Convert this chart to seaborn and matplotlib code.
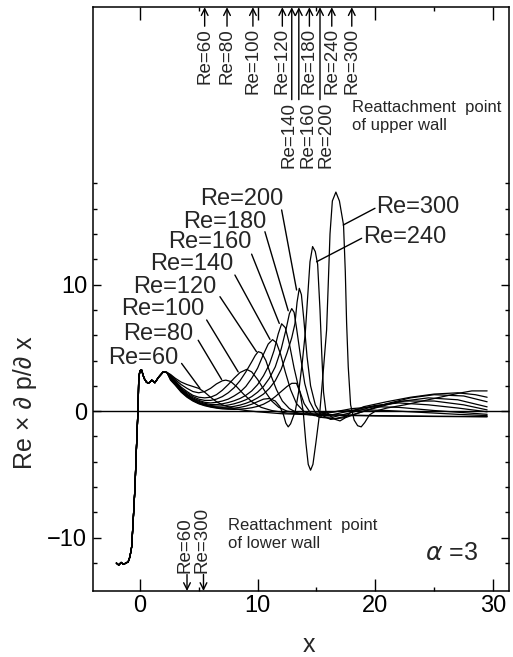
import matplotlib

matplotlib.use("Agg")

import matplotlib.pyplot as plt
import pandas as pd
import seaborn as sns


RE_VALUES = [60, 80, 100, 120, 140, 160, 180, 200, 240, 300]

# inlet part, identical for every Re
INLET_X = [-2.0, -1.8, -1.6, -1.4, -1.2, -1.0, -0.85, -0.7, -0.57, -0.42, -0.3, -0.2,
           -0.14, -0.1, 0.0, 0.14, 0.35, 0.55, 0.71, 0.85, 1.0, 1.27, 1.6, 1.98, 2.3]
INLET_Y = [-12.0, -12.15, -11.95, -12.1, -12.0, -11.9, -11.5, -10.7, -8.6, -6.0, -3.0, -0.7,
           1.0, 2.6, 3.2, 3.25, 2.6, 2.3, 2.2, 2.3, 2.45, 2.25, 2.7, 3.1, 3.05]

X_RE60 = [2.6, 3.0, 3.5, 4.0, 4.5, 5.0, 5.5, 6.0, 6.5, 7.0, 8.0, 9.0, 10.0, 12.0, 15.0, 20.0, 25.0, 29.5]
Y_RE60 = [2.9, 2.6, 2.3, 2.1, 1.95, 1.8, 1.5, 1.1, 0.75, 0.5, 0.2, 0.05, -0.05, -0.2, -0.3, -0.38, -0.42, -0.45]

X_RE80 = [2.6, 3.0, 3.5, 4.0, 4.5, 5.0, 5.5, 6.0, 6.5, 7.0, 7.3, 7.7, 8.2, 8.8, 9.5, 10.3, 11.2, 12.5,
          15.0, 20.0, 25.0, 29.5]
Y_RE80 = [2.85, 2.5, 2.1, 1.8, 1.55, 1.45, 1.55, 1.8, 2.15, 2.4, 2.45, 2.35, 1.95, 1.35, 0.75, 0.3, 0.05, -0.15,
          -0.25, -0.35, -0.4, -0.42]

X_RE100 = [2.6, 3.0, 3.5, 4.0, 4.5, 5.0, 5.5, 6.0, 6.5, 7.0, 7.5, 8.0, 8.5, 9.07, 9.5, 10.0, 10.6, 11.2,
           11.8, 12.5, 13.5, 15.0, 17.0, 19.0, 21.0, 24.0, 27.0, 29.5]
Y_RE100 = [2.8, 2.4, 1.9, 1.55, 1.25, 1.1, 1.05, 1.1, 1.3, 1.65, 2.1, 2.6, 3.05, 3.3, 3.1, 2.5, 1.6, 0.8,
           0.3, 0.0, -0.15, -0.15, 0.0, 0.1, 0.05, -0.1, -0.25, -0.35]

X_RE120 = [2.6, 3.0, 3.5, 4.0, 4.5, 5.0, 5.5, 6.0, 6.5, 7.0, 7.5, 8.0, 8.5, 9.0, 9.5, 9.8, 10.05, 10.35,
           10.7, 11.1, 11.6, 12.1, 12.7, 13.4, 14.5, 16.0, 18.0, 20.0, 22.0, 25.0, 29.5]
Y_RE120 = [2.75, 2.35, 1.8, 1.45, 1.15, 0.95, 0.85, 0.85, 0.95, 1.15, 1.45, 1.85, 2.4, 3.1, 3.9, 4.4, 4.7, 4.6,
           4.0, 2.9, 1.7, 0.8, 0.2, -0.15, -0.3, -0.15, 0.2, 0.35, 0.3, 0.05, -0.25]

X_RE140 = [2.6, 3.0, 3.5, 4.0, 4.5, 5.0, 5.5, 6.0, 6.5, 7.0, 7.5, 8.0, 8.5, 9.0, 9.5, 10.0, 10.5, 10.9,
           11.27, 11.6, 11.95, 12.35, 12.8, 13.3, 13.9, 14.8, 16.0, 18.0, 20.0, 22.0, 24.5, 27.0, 29.5]
Y_RE140 = [2.7, 2.3, 1.75, 1.35, 1.05, 0.85, 0.7, 0.65, 0.7, 0.8, 0.95, 1.2, 1.5, 1.95, 2.6, 3.4, 4.5, 5.3,
           5.65, 5.4, 4.5, 3.1, 1.7, 0.6, 0.0, -0.35, -0.35, 0.05, 0.45, 0.65, 0.5, 0.25, -0.05]

X_RE160 = [2.6, 3.0, 3.5, 4.0, 4.5, 5.0, 5.5, 6.0, 6.5, 7.0, 7.5, 8.0, 8.5, 9.0, 9.5, 10.0, 10.5, 11.0,
           11.4, 11.75, 12.04, 12.35, 12.7, 13.1, 13.5, 13.95, 14.5, 15.3, 16.5, 18.0, 20.0, 22.5, 25.0,
           27.5, 29.5]
Y_RE160 = [2.65, 2.25, 1.7, 1.3, 0.98, 0.78, 0.62, 0.53, 0.52, 0.58, 0.68, 0.82, 1.0, 1.25, 1.6, 2.1, 2.8, 3.7,
           4.8, 6.1, 6.9, 6.6, 5.3, 3.4, 1.8, 0.6, -0.15, -0.5, -0.45, -0.1, 0.4, 0.8, 0.8,
           0.5, 0.1]

X_RE180 = [2.6, 3.0, 3.5, 4.0, 4.5, 5.0, 5.5, 6.0, 6.5, 7.0, 7.5, 8.0, 8.5, 9.0, 9.5, 10.0, 10.5, 11.0,
           11.5, 12.0, 12.4, 12.7, 12.9, 13.1, 13.3, 13.65, 14.0, 14.4, 14.9, 15.5, 16.5, 18.0, 20.0, 22.0,
           24.5, 27.0, 29.5]
Y_RE180 = [2.6, 2.2, 1.65, 1.25, 0.92, 0.7, 0.55, 0.45, 0.4, 0.42, 0.48, 0.58, 0.72, 0.9, 1.15, 1.5, 1.95, 2.6,
           3.5, 4.9, 6.4, 7.7, 8.1, 7.8, 6.6, 4.3, 2.2, 0.8, -0.1, -0.5, -0.6, -0.3, 0.25, 0.75,
           1.05, 0.9, 0.34]

X_RE200 = [2.6, 3.0, 3.5, 4.0, 4.5, 5.0, 5.5, 6.0, 6.5, 7.0, 7.5, 8.0, 8.5, 9.0, 9.5, 10.0, 10.5, 11.0,
           11.5, 12.0, 12.5, 12.9, 13.17, 13.35, 13.54, 13.72, 13.93, 14.2, 14.5, 14.9, 15.4, 16.2, 17.5,
           19.0, 21.0, 23.0, 25.0, 27.5, 29.5]
Y_RE200 = [2.55, 2.15, 1.6, 1.2, 0.88, 0.65, 0.5, 0.4, 0.33, 0.3, 0.32, 0.38, 0.48, 0.62, 0.8, 1.05, 1.35, 1.8,
           2.4, 3.3, 4.6, 5.8, 6.9, 8.6, 9.7, 9.2, 7.2, 4.3, 2.0, 0.5, -0.3, -0.65, -0.5,
           0.0, 0.6, 1.05, 1.3, 1.2, 0.74]

X_RE240 = [2.6, 3.0, 3.5, 4.0, 4.5, 5.0, 5.5, 6.0, 6.5, 7.0, 7.5, 8.0, 8.5, 9.0, 9.5, 10.0, 10.5, 11.0,
           11.5, 11.9, 12.2, 12.4, 12.6, 12.8, 13.0, 13.2, 13.5, 13.8, 14.05, 14.25, 14.45, 14.67, 14.9,
           15.1, 15.3, 15.45, 15.6, 15.8, 16.2, 16.6, 17.0, 17.4, 17.9, 19.0, 21.0, 23.0, 25.0, 27.0,
           28.5, 29.5]
Y_RE240 = [2.5, 2.1, 1.55, 1.15, 0.85, 0.62, 0.47, 0.36, 0.28, 0.23, 0.22, 0.24, 0.3, 0.4, 0.55, 0.75, 0.95, 1.0,
           0.8, 0.35, -0.3, -0.95, -1.24, -1.0, -0.5, 0.0, 1.6, 3.9, 6.2, 9.0, 11.8, 13.0, 12.6,
           11.6, 8.0, 4.5, 1.5, 0.0, -0.4, -0.65, -0.77, -0.55, -0.1, 0.35, 0.75, 1.1, 1.35, 1.45,
           1.3, 1.1]

X_RE300 = [2.6, 3.0, 3.5, 4.0, 4.5, 5.0, 5.5, 6.0, 6.5, 7.0, 7.5, 8.0, 8.5, 9.0, 9.5, 10.0, 10.5, 11.0,
           11.5, 12.0, 12.5, 12.9, 13.3, 13.6, 13.87, 14.1, 14.3, 14.5, 14.7, 14.95, 15.29, 15.6, 15.86,
           16.0, 16.15, 16.35, 16.65, 16.95, 17.3, 17.45, 17.56, 17.7, 17.9, 18.2, 18.5, 18.8, 19.1,
           19.5, 20.0, 21.0, 22.5, 24.0, 25.5, 27.0, 28.2, 29.5]
Y_RE300 = [2.45, 2.05, 1.5, 1.1, 0.8, 0.58, 0.43, 0.32, 0.24, 0.18, 0.15, 0.14, 0.16, 0.2, 0.27, 0.38, 0.55, 0.8,
           1.15, 1.55, 1.95, 2.2, 2.2, 1.5, 0.0, -2.5, -4.2, -4.66, -4.2, -2.5, 0.0, 3.4, 6.4,
           10.0, 14.0, 16.6, 17.3, 16.6, 14.7, 11.0, 7.0, 3.5, 0.5, -0.7, -1.15, -1.24, -0.9,
           -0.3, 0.0, 0.25, 0.5, 0.8, 1.1, 1.4, 1.6, 1.6]

CURVE_X = [X_RE60, X_RE80, X_RE100, X_RE120, X_RE140, X_RE160, X_RE180, X_RE200, X_RE240, X_RE300]
CURVE_Y = [Y_RE60, Y_RE80, Y_RE100, Y_RE120, Y_RE140, Y_RE160, Y_RE180, Y_RE200, Y_RE240, Y_RE300]

# curve labels and leader lines
LABEL_X = [-2.69, -1.42, -1.56, -0.57, 0.85, 2.4, 3.68, 5.1, 19.0, 20.1]
LABEL_Y = [4.23, 6.08, 8.06, 9.84, 11.62, 13.32, 14.96, 16.76, 13.78, 16.15]
LEADER_X0 = [3.54, 4.95, 5.67, 6.8, 8.07, 9.49, 10.62, 12.04, 18.84, 19.97]
LEADER_Y0 = [3.77, 5.6, 7.2, 9.04, 10.75, 12.4, 14.17, 15.89, 13.65, 16.02]
LEADER_X1 = [5.1, 6.94, 8.35, 9.9, 11.05, 11.84, 12.6, 13.31, 15.01, 17.27]
LEADER_Y1 = [1.8, 2.5, 3.1, 4.7, 5.67, 6.93, 7.93, 9.57, 11.8, 14.7]

# reattachment points
UPPER_X = [5.5, 7.4, 9.6, 12.1, 12.9, 13.5, 14.4, 15.3, 16.3, 18.0]
UPPER_TEXT_X = [5.5, 7.4, 9.6, 12.1, 12.7, 14.25, 14.4, 15.85, 16.3, 18.0]
UPPER_LONG = [False, False, False, False, True, True, False, True, False, False]
LOWER_RE = [60, 300]
LOWER_X = [4.0, 5.4]

XLIM = (-4.0, 31.35)
YLIM = (-14.2, 31.9)


def main() -> None:
    sns.set_theme(style="ticks")
    plt.rcParams["font.family"] = ["Liberation Sans", "DejaVu Sans"]
    plt.rcParams["mathtext.fontset"] = "dejavusans"

    frames = []
    for re, xs, ys in zip(RE_VALUES, CURVE_X, CURVE_Y):
        frames.append(pd.DataFrame({"x": INLET_X + xs, "y": INLET_Y + ys, "Re": re}))
    data = pd.concat(frames, ignore_index=True)

    fig = plt.figure(figsize=(5.13, 6.57), dpi=100)
    ax = fig.add_axes([0.181, 0.1005, 0.811, 0.8885])

    sns.lineplot(data=data, x="x", y="y", hue="Re", units="Re", estimator=None,
                 palette=["black"] * len(RE_VALUES), legend=False, lw=0.9, sort=False, ax=ax)
    ax.axhline(0, color="black", lw=1.0)

    ax.set_xlim(*XLIM)
    ax.set_ylim(*YLIM)
    ax.set_xticks([0, 10, 20, 30])
    ax.set_xticks([5, 15, 25], minor=True)
    ax.set_yticks([-10, 0, 10])
    ax.set_yticks([-12, -8, -6, -4, -2, 2, 4, 6, 8, 12, 14, 16, 18], minor=True)
    ax.set_yticklabels(["\u221210", "0", "10"])
    ax.tick_params(axis="both", which="both", direction="in", top=True, right=True,
                   colors="black", labelsize=17, width=1.0)
    ax.tick_params(axis="x", which="major", length=9, pad=3)
    ax.tick_params(axis="y", which="major", length=5.5, pad=4)
    ax.tick_params(axis="both", which="minor", length=3)
    for spine in ax.spines.values():
        spine.set_linewidth(1.1)
        spine.set_color("black")

    ax.set_xlabel("x", fontsize=18)
    ax.set_ylabel("Re \u00d7 \u2202 p/\u2202 x", fontsize=18)
    ax.xaxis.set_label_coords(0.52, -0.072)
    ax.yaxis.set_label_coords(-0.135, 0.322)

    for i, re in enumerate(RE_VALUES):
        ax.text(LABEL_X[i], LABEL_Y[i], f"Re={re}", fontsize=17, ha="left", va="center")
        ax.plot([LEADER_X0[i], LEADER_X1[i]], [LEADER_Y0[i], LEADER_Y1[i]], color="black", lw=1.0)

    top = YLIM[1]
    for i, re in enumerate(RE_VALUES):
        start = 24.6 if UPPER_LONG[i] else 30.4
        ax.annotate("", xy=(UPPER_X[i], top), xytext=(UPPER_X[i], start),
                    arrowprops=dict(arrowstyle="->", color="black", lw=1.0,
                                    shrinkA=0, shrinkB=0, mutation_scale=12),
                    annotation_clip=False)
        ax.text(UPPER_TEXT_X[i], start - 0.15, f"Re={re}", fontsize=13.5, rotation=90,
                ha="center", va="top")

    bottom = YLIM[0]
    for re, x in zip(LOWER_RE, LOWER_X):
        ax.annotate("", xy=(x, bottom), xytext=(x, -12.9),
                    arrowprops=dict(arrowstyle="->", color="black", lw=1.0,
                                    shrinkA=0, shrinkB=0, mutation_scale=12),
                    annotation_clip=False)
        ax.text(x - 0.15, -12.8, f"Re={re}", fontsize=13.5, rotation=90, ha="center", va="bottom")

    ax.text(18.0, 24.6, "Reattachment  point\nof upper wall", fontsize=12,
            ha="left", va="top", linespacing=1.25)
    ax.text(7.5, -8.46, "Reattachment  point\nof lower wall", fontsize=12,
            ha="left", va="top", linespacing=1.25)
    ax.text(28.7, -11.2, "$\\alpha$ =3", fontsize=18, ha="right", va="center")

    fig.savefig("out.png", dpi=100)
    plt.close(fig)


if __name__ == "__main__":
    main()
